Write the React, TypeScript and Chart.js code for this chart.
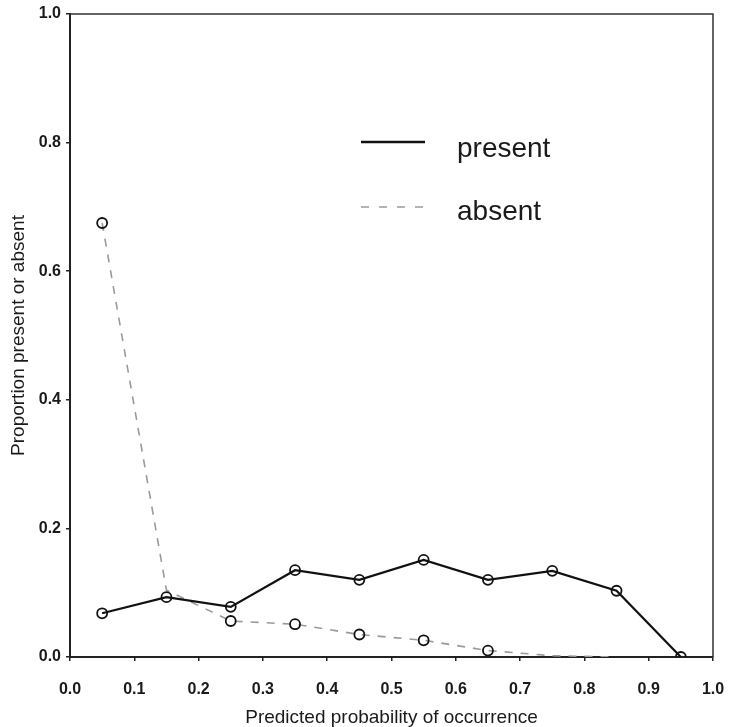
import React, { useEffect, useRef } from "react";
import { Chart, registerables } from "chart.js";

Chart.register(...registerables);

const binCenters = [0.05, 0.15, 0.25, 0.35, 0.45, 0.55, 0.65, 0.75, 0.85, 0.95];
const presentValues = [0.068, 0.093, 0.078, 0.135, 0.12, 0.151, 0.12, 0.134, 0.103, 0.0];
const absentValues = [0.675, 0.104, 0.056, 0.051, 0.035, 0.026, 0.01, 0.002, 0.0];
const absentRadius = [5, 0, 5, 5, 5, 5, 5, 0, 0];
const legendLabels = ["present", "absent"];
const xTitle = "Predicted probability of occurrence";
const yTitle = "Proportion present or absent";

const FONT = "'Liberation Sans', Arial, Helvetica, sans-serif";
const INK = "#1a1a1a";

const frameAndLegend = {
  id: "frameAndLegend",
  afterDatasetsDraw(chart: any) {
    const { ctx, chartArea } = chart;
    const { left, right, top, bottom } = chartArea;
    ctx.save();
    ctx.strokeStyle = "#333";
    ctx.lineWidth = 1.5;
    ctx.beginPath();
    ctx.moveTo(left, top);
    ctx.lineTo(right, top);
    ctx.lineTo(right, bottom);
    ctx.stroke();

    const lx0 = left + 291;
    const lx1 = left + 355;
    const tx = left + 387;
    ctx.font = `28px ${FONT}`;
    ctx.fillStyle = INK;
    ctx.textBaseline = "alphabetic";
    ctx.textAlign = "left";

    ctx.setLineDash([]);
    ctx.strokeStyle = "#111";
    ctx.lineWidth = 2.5;
    ctx.beginPath();
    ctx.moveTo(lx0, top + 128);
    ctx.lineTo(lx1, top + 128);
    ctx.stroke();
    ctx.fillText(legendLabels[0], tx, top + 143);

    ctx.setLineDash([8, 10]);
    ctx.strokeStyle = "#9a9a9a";
    ctx.lineWidth = 1.5;
    ctx.beginPath();
    ctx.moveTo(lx0, top + 193);
    ctx.lineTo(lx1, top + 193);
    ctx.stroke();
    ctx.setLineDash([]);
    ctx.fillText(legendLabels[1], tx, top + 206);
    ctx.restore();
  },
};

export default function App() {
  const ref = useRef<HTMLCanvasElement | null>(null);

  useEffect(() => {
    if (!ref.current) return;
    const chart = new Chart(ref.current, {
      type: "line",
      data: {
        datasets: [
          {
            label: legendLabels[0],
            data: presentValues.map((v, i) => ({ x: binCenters[i], y: v })),
            borderColor: "#111",
            borderWidth: 2.2,
            pointRadius: 5,
            pointBorderWidth: 1.8,
            pointBorderColor: "#111",
            pointBackgroundColor: "rgba(0,0,0,0)",
            tension: 0,
            clip: 0,
          },
          {
            label: legendLabels[1],
            data: absentValues.map((v, i) => ({ x: binCenters[i], y: v })),
            borderColor: "#9a9a9a",
            borderWidth: 1.6,
            borderDash: [8, 8],
            pointRadius: absentRadius,
            pointBorderWidth: 1.8,
            pointBorderColor: "#111",
            pointBackgroundColor: "rgba(0,0,0,0)",
            tension: 0,
            clip: 0,
          },
        ],
      },
      options: {
        animation: false,
        responsive: false,
        maintainAspectRatio: false,
        layout: { padding: { left: 0, top: 14, right: 17, bottom: 0 } },
        plugins: { legend: { display: false }, tooltip: { enabled: false } },
        scales: {
          x: {
            type: "linear",
            min: 0,
            max: 1,
            afterFit: (s: any) => {
              s.height = 70;
              s.paddingLeft = 0;
              s.paddingRight = 0;
            },
            ticks: {
              stepSize: 0.1,
              padding: 19,
              color: INK,
              font: { family: FONT, size: 16, weight: "bold" },
              callback: (v: any) => Number(v).toFixed(1),
            },
            grid: { drawOnChartArea: false, drawTicks: true, tickLength: 4, color: "#222", lineWidth: 1.5 },
            border: { display: true, color: "#222", width: 2 },
            title: {
              display: true,
              text: xTitle,
              color: INK,
              font: { family: FONT, size: 19, lineHeight: 1.0 },
              padding: { top: 0, bottom: 0 },
            },
          },
          y: {
            type: "linear",
            min: 0,
            max: 1,
            afterFit: (s: any) => {
              s.width = 70;
              s.paddingTop = 0;
              s.paddingBottom = 0;
            },
            ticks: {
              stepSize: 0.2,
              padding: 5,
              color: INK,
              font: { family: FONT, size: 16, weight: "bold" },
              callback: (v: any) => Number(v).toFixed(1),
            },
            grid: { drawOnChartArea: false, drawTicks: true, tickLength: 4, color: "#222", lineWidth: 1.5 },
            border: { display: true, color: "#222", width: 2 },
            title: {
              display: true,
              text: yTitle,
              color: INK,
              font: { family: FONT, size: 19 },
              padding: { top: 7, bottom: 0 },
            },
          },
        },
      },
      plugins: [frameAndLegend],
    });
    return () => chart.destroy();
  }, []);

  return (
    <div style={{ position: "fixed", left: 0, top: 0, width: 730, height: 727, background: "#fff" }}>
      <canvas ref={ref} width={730} height={727} style={{ width: 730, height: 727, display: "block" }} />
    </div>
  );
}
